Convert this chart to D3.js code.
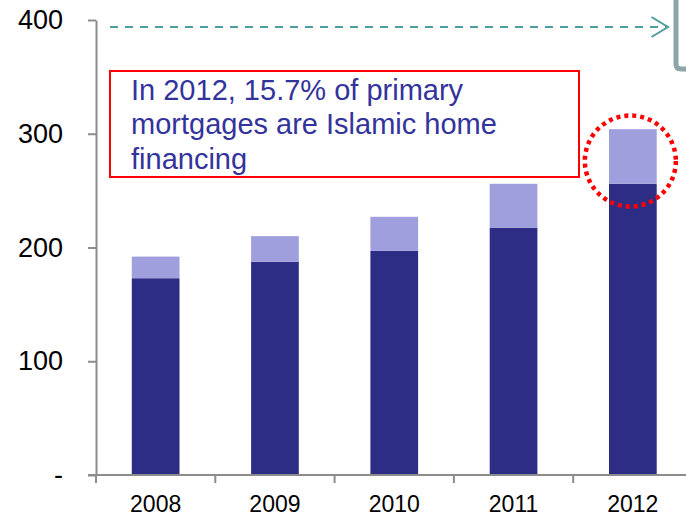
<!DOCTYPE html>
<html>
<head>
<meta charset="utf-8">
<script src="https://cdn.jsdelivr.net/npm/d3@7/dist/d3.min.js"></script>
<style>
  html, body { margin: 0; padding: 0; background: #fff; }
  svg { display: block; font-family: "Liberation Sans", Arial, sans-serif; }
</style>
</head>
<body>
<svg id="chart" width="686" height="515"></svg>
<script>
// Primary mortgages by year: conventional vs. Islamic home financing
const years = ["2008", "2009", "2010", "2011", "2012"];
const conventional = [173, 187.5, 197, 217.5, 256];
const islamic = [19, 22.5, 30, 38.5, 48];
const yTicks = [0, 100, 200, 300, 400];
const noteLines = ["In 2012, 15.7% of primary", "mortgages are Islamic home", "financing"];

const svg = d3.select("#chart");
const axisColor = "#8c8c8c";

const x = d3.scaleBand()
  .domain(years)
  .range([96, 692.5])
  .paddingInner(0.6)
  .paddingOuter(0.3);

const y = d3.scaleLinear().domain([0, 400]).range([475, 20]);

// stacked series
const rows = years.map((yr, i) => ({ year: yr, conventional: conventional[i], islamic: islamic[i] }));
const stack = d3.stack().keys(["conventional", "islamic"])(rows);
const colors = { conventional: "#2e2d86", islamic: "#a09fdd" };

svg.append("g").selectAll("g")
  .data(stack)
  .join("g")
  .attr("fill", d => colors[d.key])
  .selectAll("rect")
  .data(d => d)
  .join("rect")
  .attr("x", d => x(d.data.year))
  .attr("width", x.bandwidth())
  .attr("y", d => y(d[1]))
  .attr("height", d => y(d[0]) - y(d[1]));

// y axis
const yAxis = svg.append("g")
  .attr("transform", "translate(96,0)")
  .call(d3.axisLeft(y).tickValues(yTicks).tickFormat(d => d === 0 ? "-" : d)
    .tickSize(8).tickSizeOuter(0).tickPadding(25));
yAxis.select(".domain").attr("stroke", axisColor).attr("stroke-width", 2);
yAxis.selectAll(".tick line").attr("stroke", axisColor).attr("stroke-width", 2);
yAxis.selectAll(".tick text")
  .attr("font-family", "Liberation Sans, Arial, sans-serif")
  .attr("font-size", 27).attr("fill", "#000");

// x axis: baseline, boundary ticks, centred year labels
const step = x.step();
const x0 = x.range()[0];
const xg = svg.append("g");
xg.append("line")
  .attr("x1", 88).attr("x2", 686)
  .attr("y1", y(0)).attr("y2", y(0))
  .attr("stroke", axisColor).attr("stroke-width", 2);
xg.selectAll("line.tick")
  .data(d3.range(years.length + 1))
  .join("line")
  .attr("class", "tick")
  .attr("x1", i => x0 + i * step).attr("x2", i => x0 + i * step)
  .attr("y1", y(0)).attr("y2", y(0) + 8)
  .attr("stroke", axisColor).attr("stroke-width", 2);
xg.selectAll("text")
  .data(years)
  .join("text")
  .attr("x", d => x(d) + x.bandwidth() / 2)
  .attr("y", 511.5)
  .attr("text-anchor", "middle")
  .attr("font-size", 23)
  .attr("fill", "#000")
  .text(d => d);

// dashed arrow across the top
const arrowY = 27;
svg.append("line")
  .attr("x1", 110).attr("x2", 666)
  .attr("y1", arrowY).attr("y2", arrowY)
  .attr("stroke", "#4e9c9e").attr("stroke-width", 2)
  .attr("stroke-dasharray", "8 7");
svg.append("path")
  .attr("d", `M651.5,${arrowY - 10} L668,${arrowY} L651.5,${arrowY + 10}`)
  .attr("fill", "none").attr("stroke", "#4e9c9e").attr("stroke-width", 2);

// grey bracket box at the top-right corner
svg.append("path")
  .attr("d", "M676,-5 L676,64 Q676,69 681,69 L690,69")
  .attr("fill", "none").attr("stroke", "#8ba5a8").attr("stroke-width", 5);

// annotation box
svg.append("rect")
  .attr("x", 110).attr("y", 71)
  .attr("width", 469).attr("height", 106)
  .attr("fill", "#fff").attr("stroke", "#ff0000").attr("stroke-width", 2);
svg.append("g").selectAll("text")
  .data(noteLines)
  .join("text")
  .attr("x", 131)
  .attr("y", (d, i) => 99.5 + i * 34.5)
  .attr("font-size", 29)
  .attr("fill", "#33339c")
  .text(d => d);

// dotted highlight around the 2012 bar
const lastYear = years[years.length - 1];
svg.append("ellipse")
  .attr("cx", x(lastYear) + x.bandwidth() / 2 - 2.5)
  .attr("cy", 161)
  .attr("rx", 45.5).attr("ry", 45.5)
  .attr("fill", "none")
  .attr("stroke", "#ff0000").attr("stroke-width", 4.5)
  .attr("stroke-dasharray", "4 4");
</script>
</body>
</html>
